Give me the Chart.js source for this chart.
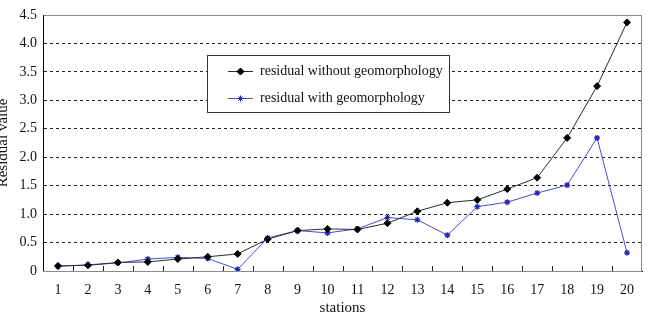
<!DOCTYPE html>
<html lang="en">
<head>
    <meta charset="UTF-8">
    <title>Residual value by station</title>
    <script src="https://cdn.jsdelivr.net/npm/chart.js"></script>
    <style>
        body { margin: 0; padding: 0; background: #fff; }
        #wrap { width: 655px; height: 322px; }
    </style>
</head>
<body>
<div id="wrap"><canvas id="residualChart"></canvas></div>
<script>
    // values
    const stations = ['1','2','3','4','5','6','7','8','9','10','11','12','13','14','15','16','17','18','19','20'];
    const withoutGeo = [0.09, 0.10, 0.15, 0.16, 0.21, 0.25, 0.30, 0.56, 0.71, 0.74, 0.73, 0.84, 1.05, 1.20, 1.25, 1.44, 1.64, 2.34, 3.25, 4.37];
    const withGeo = [0.08, 0.11, 0.14, 0.21, 0.24, 0.22, 0.03, 0.58, 0.71, 0.67, 0.74, 0.94, 0.90, 0.63, 1.13, 1.21, 1.37, 1.51, 2.34, 0.32];

    const serif = '"Liberation Serif", "Times New Roman", serif';

    // frame, inward x ticks and the boxed legend inside the plot
    const decorations = {
        id: 'decorations',
        beforeDatasetsDraw(chart) {
            const { ctx, chartArea: a } = chart;
            ctx.save();
            ctx.strokeStyle = '#8a8a8a';
            ctx.lineWidth = 1;
            ctx.strokeRect(a.left + 0.5, a.top + 0.5, a.right - a.left - 1, a.bottom - a.top);
            // left axis line, solid
            ctx.strokeStyle = '#000';
            ctx.beginPath();
            ctx.moveTo(Math.round(a.left) + 0.5, a.top);
            ctx.lineTo(Math.round(a.left) + 0.5, a.bottom);
            ctx.stroke();
            // tick marks between categories
            const n = chart.data.labels.length;
            const step = (a.right - a.left) / n;
            ctx.strokeStyle = '#222';
            ctx.beginPath();
            for (let i = 1; i < n; i++) {
                const x = Math.round(a.left + i * step) + 0.5;
                ctx.moveTo(x, a.bottom);
                ctx.lineTo(x, a.bottom - 5);
            }
            ctx.stroke();
            ctx.restore();
        },
        afterDraw(chart) {
            const { ctx } = chart;
            const box = { x: 207, y: 55, w: 242, h: 57 };
            ctx.save();
            ctx.fillStyle = '#fff';
            ctx.fillRect(box.x, box.y, box.w, box.h);
            ctx.strokeStyle = '#333';
            ctx.lineWidth = 1;
            ctx.strokeRect(box.x + 0.5, box.y + 0.5, box.w, box.h);
            ctx.font = '14px ' + serif;
            ctx.textBaseline = 'middle';
            chart.data.datasets.forEach((ds, i) => {
                const y = box.y + 16 + i * 27;
                ctx.strokeStyle = ds.borderColor;
                ctx.lineWidth = 1;
                ctx.beginPath();
                ctx.moveTo(box.x + 21, y + 0.5);
                ctx.lineTo(box.x + 46, y + 0.5);
                ctx.stroke();
                ctx.fillStyle = ds.backgroundColor;
                ctx.strokeStyle = ds.pointBorderColor || ds.backgroundColor;
                Chart.helpers.drawPoint(ctx, {
                    pointStyle: ds.pointStyle,
                    radius: ds.pointRadius,
                    borderWidth: 1
                }, box.x + 33.5, y + 0.5);
                ctx.fillStyle = '#111';
                ctx.fillText(ds.label, box.x + 53, y);
            });
            ctx.restore();
        }
    };

    const ctx = document.getElementById('residualChart').getContext('2d');
    new Chart(ctx, {
        type: 'line',
        data: {
            labels: stations,
            datasets: [{
                label: 'residual without geomorphology',
                data: withoutGeo,
                borderColor: '#2b2b2b',
                backgroundColor: '#000',
                pointBorderColor: '#000',
                borderWidth: 1,
                pointStyle: 'rectRot',
                pointRadius: 3.5,
                pointBorderWidth: 1,
                tension: 0
            }, {
                label: 'residual with geomorphology',
                data: withGeo,
                borderColor: '#4b4bd2',
                backgroundColor: '#2323b4',
                pointBorderColor: '#2323b4',
                borderWidth: 1,
                pointStyle: 'star',
                pointRadius: 3,
                pointBorderWidth: 1.2,
                tension: 0
            }]
        },
        options: {
            responsive: true,
            maintainAspectRatio: false,
            animation: false,
            layout: { padding: { left: -6, right: 13, top: 15, bottom: 0 } },
            plugins: {
                legend: { display: false },
                tooltip: { enabled: false }
            },
            scales: {
                x: {
                    offset: true,
                    afterFit(scale) { scale.height = 51; },
                    grid: { display: false, drawTicks: false },
                    border: { display: true, color: '#000', width: 1 },
                    ticks: { color: '#111', font: { family: serif, size: 14 }, padding: 11, maxRotation: 0, autoSkip: false },
                    title: { display: true, text: 'stations', color: '#111', font: { family: serif, size: 15 }, padding: { top: 0, bottom: 5 } }
                },
                y: {
                    min: 0,
                    max: 4.5,
                    afterFit(scale) { scale.width = 49; },
                    ticks: { stepSize: 0.5, color: '#111', font: { family: serif, size: 14 }, padding: 6 },
                    grid: {
                        drawTicks: false,
                        color: (c) => (c.tick && (c.tick.value === 0 || c.tick.value === 4.5)) ? 'rgba(0,0,0,0)' : '#222'
                    },
                    border: { display: true, color: '#000', width: 1, dash: [3, 3] },
                    title: { display: true, text: 'Residual value', color: '#111', font: { family: serif, size: 15 }, padding: { top: 0, bottom: 0 } }
                }
            }
        },
        plugins: [decorations]
    });
</script>
</body>
</html>
